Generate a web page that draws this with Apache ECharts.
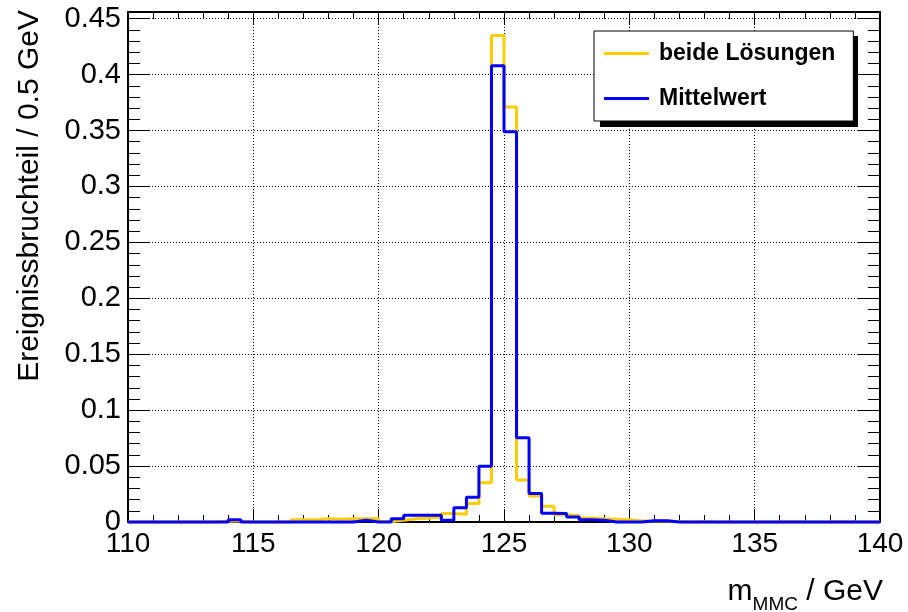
<!DOCTYPE html>
<html>
<head>
<meta charset="utf-8">
<script src="https://cdn.jsdelivr.net/npm/echarts@6/dist/echarts.min.js"></script>
<style>
  html, body { margin: 0; padding: 0; background: #fff; }
  #chart { width: 908px; height: 612px; }
</style>
</head>
<body>
<div id="chart"></div>
<script>
// Histogram binning (0.5 GeV bins from 110 to 140 GeV)
const binLow = 110;
const binWidth = 0.5;
const seriesNames = ['beide Lösungen', 'Mittelwert'];

// Bin contents, 60 bins
const beideLoesungen = [
  0, 0, 0, 0, 0, 0, 0, 0.001, 0.001, 0,          // 110 - 115
  0, 0, 0, 0.002, 0.002, 0.003, 0.0025, 0.003, 0.003, 0.003,  // 115 - 120
  0.0005, 0.0015, 0.003, 0.0035, 0.0045, 0.0075, 0.007, 0.0165, 0.035, 0.435, // 120 - 125
  0.371, 0.0376, 0.0233, 0.014, 0.0065, 0.0055, 0.0035, 0.003, 0.0025, 0.002, // 125 - 130
  0.001, 0.001, 0.001, 0.0005, 0, 0.0005, 0, 0, 0, 0,     // 130 - 135
  0, 0, 0.0005, 0, 0, 0, 0.0005, 0, 0, 0          // 135 - 140
];
const mittelwert = [
  0, 0, 0, 0, 0, 0, 0, 0, 0.002, 0,              // 110 - 115
  0, 0, 0, 0, 0, 0, 0, 0, 0.0015, 0,             // 115 - 120
  0, 0.003, 0.006, 0.006, 0.006, 0.0015, 0.0128, 0.0222, 0.0498, 0.408, // 120 - 125
  0.349, 0.0753, 0.0254, 0.0078, 0.0075, 0.0045, 0.002, 0.0015, 0, 0,   // 125 - 130
  0, 0.0012, 0.0012, 0, 0, 0, 0, 0, 0, 0,        // 130 - 135
  0, 0, 0, 0, 0, 0, 0, 0, 0, 0                   // 135 - 140
];

// Axis ranges and ticks
const xMin = 110, xMax = 140, xInterval = 5;
const yMin = 0, yMax = 0.456, yInterval = 0.05;

function toSteps(values) {
  const pts = values.map((v, i) => [binLow + binWidth * i, v]);
  pts.push([binLow + binWidth * values.length, values[values.length - 1]]);
  return pts;
}

const FONT = 'Liberation Sans';
const chart = echarts.init(document.getElementById('chart'), null, { renderer: 'canvas' });

const axisLineStyle = { color: '#000', width: 2 };
const gridLine = { show: true, lineStyle: { color: '#000', width: 1, type: [1, 2] } };

const option = {
  animation: false,
  backgroundColor: '#fff',
  grid: { left: 128, right: 28, top: 12, bottom: 90, containLabel: false, outerBoundsMode: 'none' },
  graphic: [
    { // legend drop shadow (ROOT TLegend style)
      type: 'rect', z: 1, silent: true,
      shape: { x: 600, y: 36, width: 258, height: 91 },
      style: { fill: '#000' }
    }
  ],
  legend: {
    data: seriesNames,
    orient: 'vertical',
    left: 594,
    top: 31,
    z: 10,
    padding: [11, 18, 11, 10],
    itemGap: 22,
    itemWidth: 45,
    itemHeight: 3,
    icon: 'rect',
    backgroundColor: '#fff',
    borderColor: '#000',
    borderWidth: 1,
    borderRadius: 0,
    textStyle: {
      fontFamily: FONT, fontSize: 23, fontWeight: 'bold', color: '#000',
      lineHeight: 23, padding: [0, 0, 0, 5]
    }
  },
  xAxis: [
    {
      type: 'value', position: 'bottom', min: xMin, max: xMax, interval: xInterval,
      axisLine: { show: true, onZero: false, lineStyle: axisLineStyle },
      axisTick: { show: true, inside: true, length: 13, lineStyle: { color: '#000', width: 1 } },
      minorTick: { show: true, splitNumber: 5, length: 7, lineStyle: { color: '#000', width: 1 } },
      axisLabel: { show: true, margin: 8, fontFamily: FONT, fontSize: 28, color: '#000' },
      splitLine: gridLine,
      name: '{m|m}{s|MMC}{m| / GeV}',
      nameLocation: 'end',
      nameGap: 3,
      nameTextStyle: {
        align: 'right', verticalAlign: 'top', padding: [55, 0, 0, 0],
        rich: {
          m: { fontFamily: FONT, fontSize: 30, color: '#000', lineHeight: 30, verticalAlign: 'top' },
          s: { fontFamily: FONT, fontSize: 19, color: '#000', lineHeight: 56 }
        }
      }
    },
    {
      type: 'value', position: 'top', min: xMin, max: xMax, interval: xInterval,
      axisLine: { show: true, onZero: false, lineStyle: axisLineStyle },
      axisTick: { show: true, inside: true, length: 13, lineStyle: { color: '#000', width: 1 } },
      minorTick: { show: true, splitNumber: 5, length: 7, lineStyle: { color: '#000', width: 1 } },
      axisLabel: { show: false },
      splitLine: { show: false }
    }
  ],
  yAxis: [
    {
      type: 'value', position: 'left', min: yMin, max: yMax, interval: yInterval,
      axisLine: { show: true, onZero: false, lineStyle: axisLineStyle },
      axisTick: { show: true, inside: true, length: 22, lineStyle: { color: '#000', width: 1 } },
      minorTick: { show: true, splitNumber: 5, length: 12, lineStyle: { color: '#000', width: 1 } },
      axisLabel: {
        show: true, margin: 7, fontFamily: FONT, fontSize: 29, color: '#000',
        showMaxLabel: false,
        formatter: v => String(+v.toFixed(3))
      },
      splitLine: gridLine,
      name: 'Ereignissbruchteil / 0.5 GeV',
      nameLocation: 'end',
      nameRotate: 90,
      nameGap: 2,
      nameTextStyle: {
        fontFamily: FONT, fontSize: 30, color: '#000',
        align: 'right', verticalAlign: 'bottom', padding: [0, 0, 83, 0]
      }
    },
    {
      type: 'value', position: 'right', min: yMin, max: yMax, interval: yInterval,
      axisLine: { show: true, onZero: false, lineStyle: axisLineStyle },
      axisTick: { show: true, inside: true, length: 22, lineStyle: { color: '#000', width: 1 } },
      minorTick: { show: true, splitNumber: 5, length: 12, lineStyle: { color: '#000', width: 1 } },
      axisLabel: { show: false },
      splitLine: { show: false }
    }
  ],
  series: [
    {
      name: seriesNames[0], type: 'line', step: 'end', xAxisIndex: 0, yAxisIndex: 0,
      data: toSteps(beideLoesungen), showSymbol: false, symbol: 'none',
      color: '#ffcc00', lineStyle: { color: '#ffcc00', width: 3 }, z: 3, clip: false
    },
    {
      name: seriesNames[1], type: 'line', step: 'end', xAxisIndex: 0, yAxisIndex: 0,
      data: toSteps(mittelwert), showSymbol: false, symbol: 'none',
      color: '#0000ff', lineStyle: { color: '#0000ff', width: 3 }, z: 4, clip: false
    }
  ]
};
chart.setOption(option);
</script>
</body>
</html>
